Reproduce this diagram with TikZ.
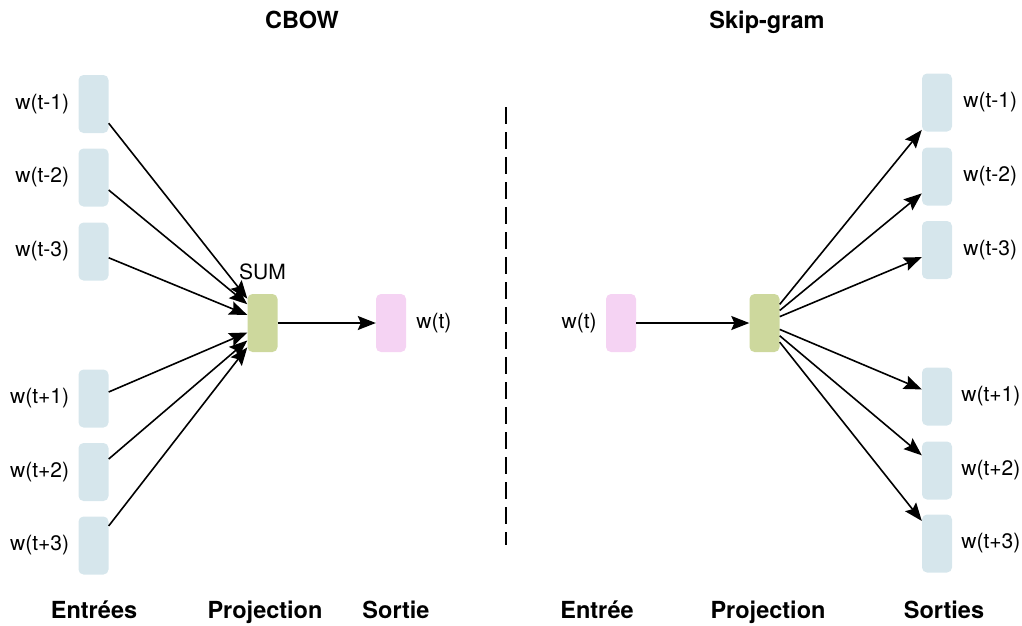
\documentclass[tikz,border=0pt]{standalone}
\usepackage{fontspec}
\setmainfont{TeX Gyre Heros}
\usepackage{tikz}
\usetikzlibrary{positioning, arrows.meta}

\definecolor{wordblue}{HTML}{D6E6EC}
\definecolor{sumgreen}{HTML}{CDD89D}
\definecolor{wordpink}{HTML}{F5D3F3}

\begin{document}
        \begin{tikzpicture}
            [
                x=1pt, y=-1pt,
                word/.style={rectangle, rounded corners=5pt, minimum width=30pt, minimum height=58pt, inner sep=0pt},
                ctx/.style={word, fill=wordblue},
                tgt/.style={word, fill=wordpink},
                hid/.style={word, fill=sumgreen},
                lbl/.style={inner sep=0pt, font=\fontsize{21}{25}\selectfont},
                head/.style={inner sep=0pt, anchor=base, font=\fontsize{23.5}{28}\selectfont\bfseries},
                arr/.style={-{Stealth[length=18pt, width=14pt, inset=3pt]}, line width=1.6pt},
            ]
            \useasboundingbox (0,0) rectangle (1022,625);

            \node[head] (cbow) at (302,28.5) {CBOW};
            \node[ctx] (cm1) at (93.5,104) {};
            \node[ctx] (cm2) at (93.5,177.5) {};
            \node[ctx] (cm3) at (93.5,251.5) {};
            \node[ctx] (cp1) at (93.5,398.5) {};
            \node[ctx] (cp2) at (93.5,472) {};
            \node[ctx] (cp3) at (93.5,545.5) {};
            \node[lbl, left=9pt of cm1] {w(t-1)};
            \node[lbl, left=9pt of cm2] {w(t-2)};
            \node[lbl, left=9pt of cm3] {w(t-3)};
            \node[lbl, left=9pt of cp1] {w(t+1)};
            \node[lbl, left=9pt of cp2] {w(t+2)};
            \node[lbl, left=9pt of cp3] {w(t+3)};
            \node[hid] (sum) at (262.5,323) {};
            \node[lbl, above=14pt of sum] {SUM};
            \node[tgt] (out) at (391,323) {};
            \node[lbl, right=10pt of out] {w(t)};
            \draw[arr] (cm1) -- (sum.122);
            \draw[arr] (cm2) -- (sum.129);
            \draw[arr] (cm3) -- (sum.152);
            \draw[arr] (cp1) -- (sum.212);
            \draw[arr] (cp2) -- (sum.229);
            \draw[arr] (cp3) -- (sum.238);
            \draw[arr] (sum) -- (out);
            \node[head] at (94,618) {Entrées};
            \node[head] at (265,618) {Projection};
            \node[head] at (396,618) {Sortie};

            \coordinate (septop) at (506,107);
            \coordinate (sepbot) at (506,545);
            \draw[line width=1.4pt, dash pattern=on 17pt off 8pt] (septop) -- (sepbot);

            \node[head] (skip) at (767,28.5) {Skip-gram};
            \node[tgt] (inw) at (621,323) {};
            \node[lbl, left=9pt of inw] {w(t)};
            \node[hid] (proj) at (764.5,323) {};
            \node[ctx] (sm1) at (937,102.5) {};
            \node[ctx] (sm2) at (937,176.5) {};
            \node[ctx] (sm3) at (937,250) {};
            \node[ctx] (sp1) at (937,396.5) {};
            \node[ctx] (sp2) at (937,470.5) {};
            \node[ctx] (sp3) at (937,543.5) {};
            \node[lbl, right=11pt of sm1] {w(t-1)};
            \node[lbl, right=11pt of sm2] {w(t-2)};
            \node[lbl, right=11pt of sm3] {w(t-3)};
            \node[lbl, right=9pt of sp1] {w(t+1)};
            \node[lbl, right=9pt of sp2] {w(t+2)};
            \node[lbl, right=9pt of sp3] {w(t+3)};
            \draw[arr] (inw) -- (proj);
            \draw[arr] (proj) -- (sm1.241);
            \draw[arr] (proj) -- (sm2.228);
            \draw[arr] (proj) -- (sm3.205);
            \draw[arr] (proj) -- (sp1.155);
            \draw[arr] (proj) -- (sp2.135);
            \draw[arr] (proj) -- (sp3.124);
            \node[head] at (597,618) {Entrée};
            \node[head] at (768,618) {Projection};
            \node[head] at (944,618) {Sorties};
        \end{tikzpicture}
\end{document}
